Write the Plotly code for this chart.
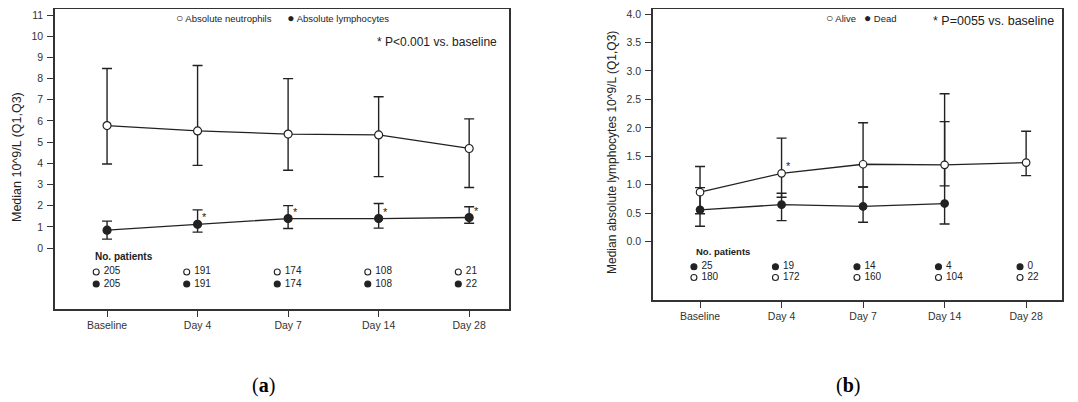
import plotly.graph_objects as go

# ---------------- data ----------------
categories = ["Baseline", "Day 4", "Day 7", "Day 14", "Day 28"]

# Panel (a)
neut_median = [5.78, 5.53, 5.38, 5.34, 4.70]
neut_q1 = [3.97, 3.90, 3.67, 3.37, 2.86]
neut_q3 = [8.48, 8.62, 8.00, 7.14, 6.10]

lymph_median = [0.84, 1.12, 1.39, 1.39, 1.44]
lymph_q1 = [0.42, 0.75, 0.92, 0.94, 1.17]
lymph_q3 = [1.27, 1.80, 2.00, 2.10, 1.95]
lymph_sig = [False, True, True, True, True]

neut_n = [205, 191, 174, 108, 21]
lymph_n = [205, 191, 174, 108, 22]

# Panel (b)
alive_median = [0.87, 1.20, 1.36, 1.35, 1.39]
alive_q1 = [0.49, 0.78, 0.96, 0.98, 1.16]
alive_q3 = [1.32, 1.82, 2.09, 2.60, 1.94]
alive_sig = [False, True, False, False, False]

dead_median = [0.56, 0.65, 0.62, 0.67]
dead_q1 = [0.27, 0.37, 0.34, 0.31]
dead_q3 = [0.95, 0.85, 0.96, 2.11]

dead_n = [25, 19, 14, 4, 0]
alive_n = [180, 172, 160, 104, 22]

yticks_a = list(range(0, 12))
yticks_b = [0.0, 0.5, 1.0, 1.5, 2.0, 2.5, 3.0, 3.5, 4.0]

# ---------------- geometry (page has 8px body margin) ----------------
OFF = 8
W, H = 1078 - OFF, 402 - OFF


def px(x):
    return (x - OFF) / W


def py(y):
    return min(1.0, 1 - (y - OFF) / H)


# ---------------- styling ----------------
DARK = "#222222"
AXC = "#333333"
FONT = "Liberation Sans, Arial, sans-serif"

xs = list(range(len(categories)))

fig = go.Figure()


def series(x, med, q1, q3, filled, xa, ya, msize):
    fig.add_trace(go.Scatter(
        x=x, y=med, mode="lines+markers", xaxis=xa, yaxis=ya, showlegend=False,
        line=dict(color=DARK, width=1.3),
        marker=dict(size=msize, symbol="circle",
                    color=DARK if filled else "white",
                    line=dict(color=DARK, width=1.2)),
        error_y=dict(type="data", symmetric=False,
                     array=[h - m for h, m in zip(q3, med)],
                     arrayminus=[m - l for m, l in zip(med, q1)],
                     color=DARK, thickness=1.4, width=5),
    ))


# Panel (a) series
series(xs, neut_median, neut_q1, neut_q3, False, "x", "y", 8)
series(xs, lymph_median, lymph_q1, lymph_q3, True, "x", "y", 8)
# Panel (b) series
series(xs[:len(dead_median)], dead_median, dead_q1, dead_q3, True, "x2", "y2", 7.5)
series(xs, alive_median, alive_q1, alive_q3, False, "x2", "y2", 7.5)


def count_row(offset, yv, counts, filled, xa, ya, msize):
    fig.add_trace(go.Scatter(
        x=[i + offset for i in xs], y=[yv] * len(xs), xaxis=xa, yaxis=ya,
        mode="markers+text", showlegend=False,
        text=[" " + str(c) for c in counts], textposition="middle right",
        textfont=dict(size=10, color=DARK, family=FONT),
        marker=dict(size=msize, color=DARK if filled else "white",
                    line=dict(color=DARK, width=1.1)),
        cliponaxis=False,
    ))


# No. patients rows
count_row(-0.12, -1.13, neut_n, False, "x", "y", 6)
count_row(-0.12, -1.70, lymph_n, True, "x", "y", 6)
count_row(-0.075, -0.44, dead_n, True, "x2", "y2", 6)
count_row(-0.075, -0.63, alive_n, False, "x2", "y2", 6)

annotations = []
# significance stars
for i, s in enumerate(lymph_sig):
    if s:
        annotations.append(dict(x=xs[i], y=lymph_median[i], xref="x", yref="y",
                                text="*", showarrow=False, xshift=7, yshift=7,
                                xanchor="center", yanchor="middle",
                                font=dict(size=11, color=DARK, family=FONT)))
for i, s in enumerate(alive_sig):
    if s:
        annotations.append(dict(x=xs[i], y=alive_median[i], xref="x2", yref="y2",
                                text="*", showarrow=False, xshift=7, yshift=7,
                                xanchor="center", yanchor="middle",
                                font=dict(size=11, color=DARK, family=FONT)))

CIRC_O = '<span style="font-size:12px">○</span>'
CIRC_F = '<span style="font-size:12px">●</span>'

annotations += [
    # legends
    dict(x=px(282), y=py(18), xref="paper", yref="paper", showarrow=False,
         xanchor="center", yanchor="middle",
         text=CIRC_O + " Absolute neutrophils      " + CIRC_F + " Absolute lymphocytes",
         font=dict(size=9.5, color=DARK, family=FONT)),
    dict(x=px(861), y=py(18), xref="paper", yref="paper", showarrow=False,
         xanchor="center", yanchor="middle",
         text=CIRC_O + " Alive   " + CIRC_F + " Dead",
         font=dict(size=9.5, color=DARK, family=FONT)),
    # p-value notes
    dict(x=px(499), y=py(42), xref="paper", yref="paper", showarrow=False,
         xanchor="right", yanchor="middle", text="* P<0.001 vs. baseline",
         font=dict(size=12, color=DARK, family=FONT)),
    dict(x=px(1056), y=py(21), xref="paper", yref="paper", showarrow=False,
         xanchor="right", yanchor="middle", text="* P=0055 vs. baseline",
         font=dict(size=12.5, color=DARK, family=FONT)),
    # No. patients labels
    dict(x=-0.16, y=-0.42, xref="x", yref="y", showarrow=False,
         xanchor="left", yanchor="middle",
         text="<b>No. patients</b>", font=dict(size=10, color=DARK, family=FONT)),
    dict(x=-0.08, y=-0.18, xref="x2", yref="y2", showarrow=False,
         xanchor="left", yanchor="middle",
         text="<b>No. patients</b>", font=dict(size=9.5, color=DARK, family=FONT)),
    # y titles
    dict(x=px(17), y=py(157), xref="paper", yref="paper", showarrow=False,
         xanchor="center", yanchor="middle",
         textangle=-90, text="Median 10^9/L (Q1,Q3)",
         font=dict(size=12.5, color=DARK, family=FONT)),
    dict(x=px(612), y=py(153), xref="paper", yref="paper", showarrow=False,
         xanchor="center", yanchor="middle",
         textangle=-90, text="Median absolute lymphocytes 10^9/L (Q1,Q3)",
         font=dict(size=12, color=DARK, family=FONT)),
    # panel labels
    dict(x=px(263), y=py(385), xref="paper", yref="paper", showarrow=False,
         xanchor="center", yanchor="middle",
         text="(<b>a</b>)", font=dict(size=20, color="black", family="Liberation Serif, serif")),
    dict(x=px(848), y=py(385), xref="paper", yref="paper", showarrow=False,
         xanchor="center", yanchor="middle",
         text="(<b>b</b>)", font=dict(size=20, color="black", family="Liberation Serif, serif")),
]

axis_common = dict(showline=True, mirror=True, linecolor=AXC, linewidth=1.5,
                   ticks="outside", ticklen=6, tickcolor=AXC, tickwidth=1.2,
                   showgrid=False, zeroline=False, automargin=False,
                   ticklabeloverflow="allow",
                   tickfont=dict(size=10.5, color=AXC, family=FONT))

fig.update_layout(
    width=W, height=H, margin=dict(l=0, r=0, t=0, b=0),
    paper_bgcolor="white", plot_bgcolor="white",
    font=dict(family=FONT, color=DARK),
    showlegend=False,
    xaxis=dict(domain=[px(55), px(509)], range=[-0.575, 4.44],
               tickvals=xs, ticktext=categories, anchor="y", **axis_common),
    yaxis=dict(domain=[py(309), py(8.5)], range=[-2.88, 11.31],
               tickvals=yticks_a, anchor="x", ticklabelstandoff=2, **axis_common),
    xaxis2=dict(domain=[px(653), px(1062)], range=[-0.577, 4.44],
                tickvals=xs, ticktext=categories, anchor="y2", **axis_common),
    yaxis2=dict(domain=[py(300), py(8.5)], range=[-1.025, 4.097],
                tickvals=yticks_b, tickformat=".1f", anchor="x2",
                ticklabelstandoff=2, **axis_common),
    annotations=annotations,
)

fig.write_html("out.html")
